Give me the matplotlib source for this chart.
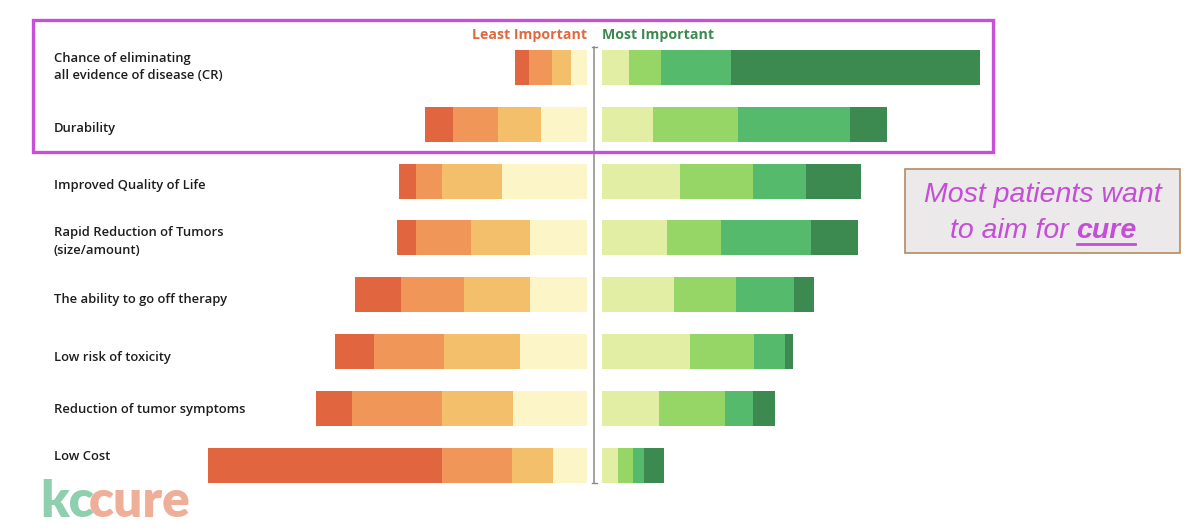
import matplotlib
matplotlib.use("Agg")
import matplotlib.pyplot as plt
from matplotlib.patches import Rectangle
import numpy as np

# ---------------- data (percent of respondents per rank) ----------------
categories = [
    "Chance of eliminating\nall evidence of disease (CR)",
    "Durability",
    "Improved Quality of Life",
    "Rapid Reduction of Tumors\n(size/amount)",
    "The ability to go off therapy",
    "Low risk of toxicity",
    "Reduction of tumor symptoms",
    "Low Cost",
]
# least-important side: ranks 8, 7, 6, 5 (outermost -> centre)
rank8 = [3.0, 6.3, 3.8, 4.3, 10.5, 8.8, 8.0, 52.7]
rank7 = [5.2, 10.1, 5.9, 12.4, 14.0, 15.7, 20.2, 15.7]
rank6 = [4.3, 9.6, 13.5, 13.3, 15.0, 17.0, 16.1, 9.1]
rank5 = [3.7, 10.4, 19.1, 12.8, 12.8, 15.2, 16.6, 7.8]
# most-important side: ranks 4, 3, 2, 1 (centre -> outermost)
rank4 = [6.1, 11.5, 17.6, 14.6, 16.2, 19.8, 12.9, 3.7]
rank3 = [7.3, 19.2, 16.3, 12.2, 13.9, 14.5, 14.7, 3.4]
rank2 = [15.6, 25.2, 12.0, 20.2, 13.2, 6.9, 6.4, 2.5]
rank1 = [56.1, 8.2, 12.3, 10.5, 4.3, 1.8, 4.9, 4.4]

left_series = [rank5, rank6, rank7, rank8]          # centre -> outward
left_colors = ["#fcf5c7", "#f3bf6b", "#f09659", "#e1653f"]
right_series = [rank4, rank3, rank2, rank1]         # centre -> outward
right_colors = ["#e1eea3", "#96d667", "#55ba6b", "#3c8a50"]

header_left = "Least Important"
header_right = "Most Important"
callout_1 = "Most patients want"
callout_2a = "to aim for "
callout_2b = "cure"

# ---------------- layout ----------------
W, H, DPI = 1200, 532, 100
fig = plt.figure(figsize=(W / DPI, H / DPI), dpi=DPI)
fig.patch.set_facecolor("white")

PX_PER_UNIT = 4.45          # pixels per percent
CENTER_PX = 594.5
GAP = 7.2 / PX_PER_UNIT     # half gap between sides (data units)
ROW0_PX, ROW_STEP = 67.5, 56.8

ax = fig.add_axes([0, 0, 1, 1])
ax.set_xlim((0 - CENTER_PX) / PX_PER_UNIT, (W - CENTER_PX) / PX_PER_UNIT)
ax.set_ylim((H - ROW0_PX) / ROW_STEP, (0 - ROW0_PX) / ROW_STEP)
ax.axis("off")

y = np.arange(len(categories))
bh = 35 / ROW_STEP

cum = np.zeros(len(categories))
for vals, col in zip(left_series, left_colors):
    v = np.array(vals)
    ax.barh(y, -v, left=-GAP - cum, height=bh, color=col, linewidth=0)
    cum += v
cum = np.zeros(len(categories))
for vals, col in zip(right_series, right_colors):
    v = np.array(vals)
    ax.barh(y, v, left=GAP + cum, height=bh, color=col, linewidth=0)
    cum += v

# centre divider
y_top, y_bot = (47 - ROW0_PX) / ROW_STEP, (483 - ROW0_PX) / ROW_STEP
ax.plot([0, 0], [y_top, y_bot], color="#8a8a8a", lw=1.1)
ax.plot([-0.5, 0.5], [y_top, y_top], color="#8a8a8a", lw=1.0)
ax.plot([-0.5, 0.5], [y_bot, y_bot], color="#8a8a8a", lw=1.0)

def fx(px):
    return px / W

def fy(py):
    return 1 - py / H

# category labels
label_y_px = [67, 129, 186, 241.5, 300, 357, 410, 457]
for lab, py in zip(categories, label_y_px):
    fig.text(fx(54), fy(py), lab, ha="left", va="center", fontsize=9.4,
             family="Open Sans", fontweight="semibold", color="#1e1e1e",
             linespacing=1.45)

# headers
fig.text(fx(587), fy(35), header_left, ha="right", va="center", fontsize=10.2,
         family="Open Sans", fontweight="bold", color="#e0693f")
fig.text(fx(602), fy(35), header_right, ha="left", va="center", fontsize=10.2,
         family="Open Sans", fontweight="bold", color="#3d8a50")

# magenta highlight box
fig.patches.append(Rectangle((fx(33), fy(152)), fx(993) - fx(33), fy(20) - fy(152),
                             transform=fig.transFigure, fill=False,
                             edgecolor="#c94fd6", lw=2.4))

# callout box
fig.patches.append(Rectangle((fx(905), fy(253)), fx(1180) - fx(905), fy(169) - fy(253),
                             transform=fig.transFigure, facecolor="#ebe9ea",
                             edgecolor="#b98a5e", lw=1.2))
mag = "#c44fd6"
CFS = 20.5
fig.text(fx(1043), fy(195), callout_1, ha="center", va="center", fontsize=CFS,
         family="Liberation Sans", style="italic", color=mag)

fig.canvas.draw()
r = fig.canvas.get_renderer()
ta = fig.text(0, fy(231), callout_2a, ha="left", va="center", fontsize=CFS,
              family="Liberation Sans", style="italic", color=mag)
tb = fig.text(0, fy(231), callout_2b, ha="left", va="center", fontsize=CFS,
              family="Liberation Sans", style="italic", fontweight="bold", color=mag)
wa = ta.get_window_extent(r).width
wb = tb.get_window_extent(r).width
start = 1043 - (wa + wb) / 2
ta.set_x(fx(start))
tb.set_x(fx(start + wa))
ul_y = fy(244)
fig.add_artist(plt.Line2D([fx(start + wa + 1), fx(start + wa + wb - 1)], [ul_y, ul_y],
                          transform=fig.transFigure, color=mag, lw=2.0))

# logo
tk = fig.text(fx(40), fy(502), "kc", ha="left", va="center", fontsize=37,
              family="Lato", fontweight="heavy", color="#8dcfae")
fig.canvas.draw()
wk = tk.get_window_extent(r).width
fig.text(fx(40 + wk - 5), fy(502), "cure", ha="left", va="center", fontsize=37,
         family="Lato", fontweight="heavy", color="#efae98")

fig.savefig("out.png", dpi=DPI, facecolor="white")
